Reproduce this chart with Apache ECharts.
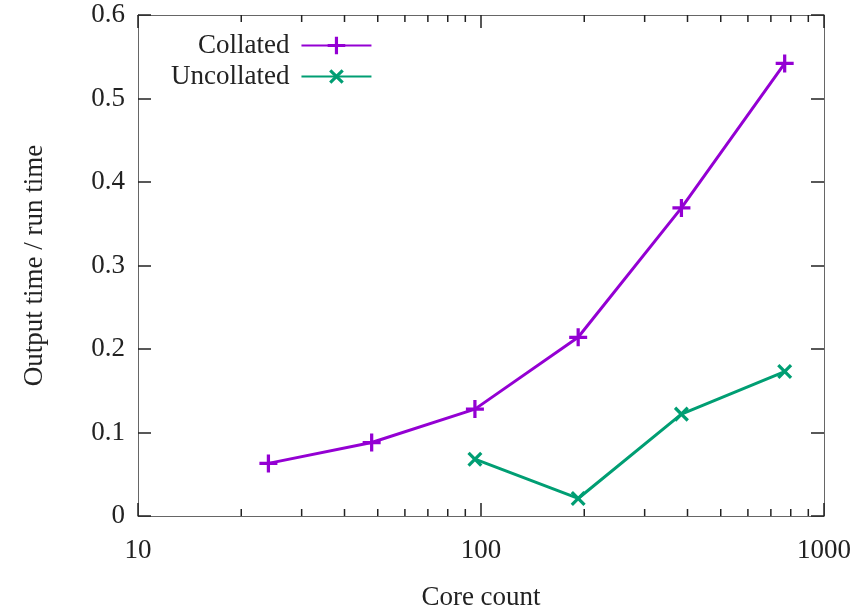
<!DOCTYPE html>
<html><head><meta charset="utf-8">
<script src="https://cdn.jsdelivr.net/npm/echarts@6/dist/echarts.min.js"></script>
<style>html,body{margin:0;padding:0;background:#fff}#c{width:858px;height:610px}</style>
</head><body><div id="c"></div>
<script>
var collatedX = [24, 48, 96, 192, 384, 768];
var collatedY = [0.063, 0.088, 0.128, 0.214, 0.369, 0.542];
var uncollatedX = [96, 192, 384, 768];
var uncollatedY = [0.068, 0.021, 0.122, 0.173];
var minorTicksX = [20, 30, 40, 50, 60, 70, 80, 90, 200, 300, 400, 500, 600, 700, 800, 900];
var seriesNames = ['Collated', 'Uncollated'];
var xName = 'Core count';
var yName = 'Output time / run time';

var FONT = '"Liberation Serif", "DejaVu Serif", serif';
var FS = 27;
var PURPLE = '#9400d3', GREEN = '#009e73';
var plusPath = 'path://M4.1,0 H5.9 V4.1 H10 V5.9 H5.9 V10 H4.1 V5.9 H0 V4.1 H4.1 Z';

function pairs(xs, ys) { return xs.map(function (x, i) { return [x, ys[i]]; }); }

var chart = echarts.init(document.getElementById('c'));
chart.setOption({
  animation: false,
  backgroundColor: '#fff',
  grid: { left: 138, right: 34, top: 15, bottom: 94, containLabel: false, outerBoundsMode: 'none' },
  legend: {
    data: seriesNames,
    orient: 'vertical',
    align: 'right',
    left: 166,
    top: 27,
    itemGap: 4,
    itemWidth: 70,
    itemHeight: 22,
    textStyle: { fontFamily: FONT, fontSize: FS, color: '#222', padding: [0, 7, 0, 0] }
  },
  xAxis: [{
    type: 'log', min: 10, max: 1000, logBase: 10,
    name: xName, nameLocation: 'middle', nameGap: 68,
    nameTextStyle: { fontFamily: FONT, fontSize: FS, color: '#222' },
    axisLine: { onZero: false, lineStyle: { color: '#666', width: 1 } },
    axisTick: { inside: true, length: 13, lineStyle: { color: '#222', width: 1.5 } },
    axisLabel: { fontFamily: FONT, fontSize: FS, color: '#222', margin: 21,
      formatter: function (v) { return String(Math.round(v)); } },
    splitLine: { show: false }
  }, {
    type: 'log', min: 10, max: 1000, logBase: 10, position: 'top',
    axisLine: { onZero: false, lineStyle: { color: '#666', width: 1 } },
    axisTick: { inside: true, length: 13, lineStyle: { color: '#222', width: 1.5 } },
    axisLabel: { show: false }, splitLine: { show: false }
  }],
  yAxis: [{
    type: 'value', min: 0, max: 0.6, interval: 0.1,
    name: yName, nameLocation: 'middle', nameGap: 90,
    nameTextStyle: { fontFamily: FONT, fontSize: FS, color: '#222' },
    axisLine: { show: true, lineStyle: { color: '#666', width: 1 } },
    axisTick: { show: true, inside: true, length: 13, lineStyle: { color: '#222', width: 1.5 } },
    axisLabel: { fontFamily: FONT, fontSize: FS, color: '#222', margin: 13 },
    splitLine: { show: false }
  }, {
    type: 'value', min: 0, max: 0.6, interval: 0.1, position: 'right',
    axisLine: { show: true, lineStyle: { color: '#666', width: 1 } },
    axisTick: { show: true, inside: true, length: 13, lineStyle: { color: '#222', width: 1.5 } },
    axisLabel: { show: false }, splitLine: { show: false }
  }],
  series: [{
    name: seriesNames[0], type: 'line', xAxisIndex: 0, yAxisIndex: 0,
    data: pairs(collatedX, collatedY),
    symbol: plusPath, symbolSize: 18,
    lineStyle: { color: PURPLE, width: 3 },
    itemStyle: { color: PURPLE }
  }, {
    name: seriesNames[1], type: 'line', xAxisIndex: 0, yAxisIndex: 0,
    data: pairs(uncollatedX, uncollatedY),
    symbol: plusPath, symbolSize: 18, symbolRotate: 45,
    lineStyle: { color: GREEN, width: 3 },
    itemStyle: { color: GREEN }
  }, {
    name: 'minorTicks', type: 'custom', xAxisIndex: 0, yAxisIndex: 0,
    silent: true, clip: false,
    data: minorTicksX.map(function (v) { return [v]; }),
    renderItem: function (params, api) {
      var b = api.coord([api.value(0), 0]);
      var t = api.coord([api.value(0), 0.6]);
      var st = { stroke: '#222', lineWidth: 1.5 };
      return { type: 'group', children: [
        { type: 'line', shape: { x1: b[0], y1: b[1], x2: b[0], y2: b[1] - 7 }, style: st },
        { type: 'line', shape: { x1: t[0], y1: t[1], x2: t[0], y2: t[1] + 7 }, style: st }
      ] };
    }
  }]
});
</script></body></html>
